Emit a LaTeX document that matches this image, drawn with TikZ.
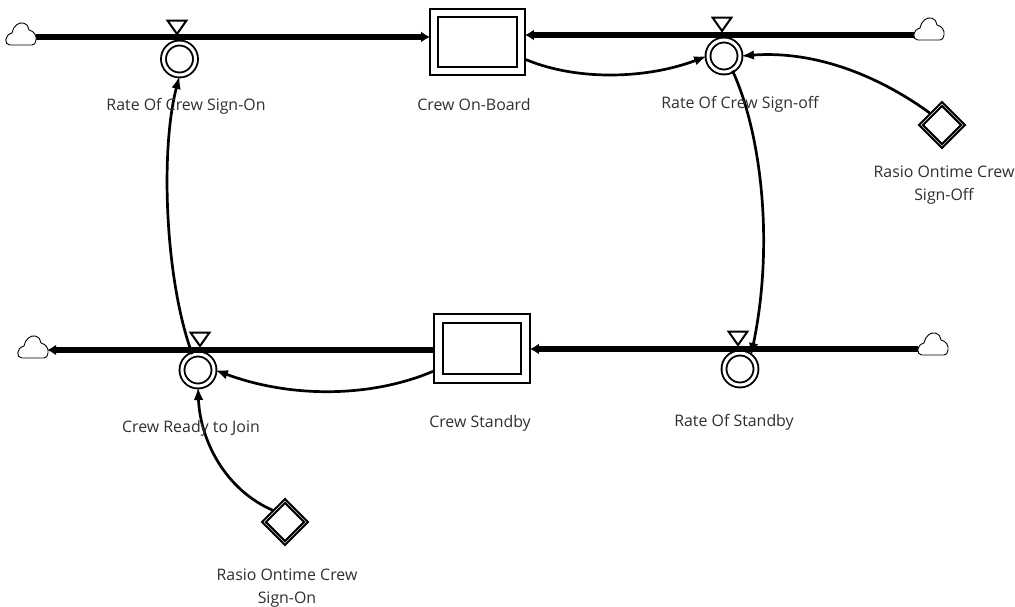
\documentclass[tikz,border=0pt]{standalone}
\usepackage{fontspec}
\setmainfont{Open Sans}
\usetikzlibrary{arrows.meta,shapes.geometric}
\definecolor{lbl}{HTML}{303030}
\newcommand{\cloudmark}[1]{\draw[cloudline,shift={(#1.center)}] (-11,11) .. controls (-17,11) and (-17,1) .. (-9,-1) .. controls (-8,-8) and (-2,-12) .. (2,-11) .. controls (6,-10) and (8,-7) .. (8,-4) .. controls (13,-3) and (16,2) .. (15,6) .. controls (15,9) and (13,11) .. (11,11) -- cycle;}
\newcommand{\valvemark}[2]{\draw[tri] (#1-9.5,#2-13.5) -- (#1+9.5,#2-13.5) -- (#1,#2) -- cycle;}
\tikzset{
  cloudline/.style={draw=black,line width=0.9pt,fill=white,line join=round},
  cloudnode/.style={inner sep=0pt,minimum width=30pt,minimum height=23pt},
  flowtip/.style={-{Latex[length=9pt,width=11pt]},shorten >=-1pt,line width=5.4pt,draw=black},
  link/.style={line width=2.7pt,draw=black,-{Latex[length=13pt,width=9.5pt]}},
  tri/.style={draw=black,line width=2pt,fill=white,line join=miter},
  valve/.style={circle,draw=black,line width=1.9pt,double=white,double distance=3pt,minimum size=32pt,inner sep=0pt,fill=white},
  stockouter/.style={rectangle,draw=black,line width=1.8pt,fill=white,inner sep=0pt},
  stockinner/.style={rectangle,draw=black,line width=2.2pt,fill=white,inner sep=0pt},
  aux/.style={diamond,shape aspect=1,draw=black,line width=2.2pt,double=white,double distance=0.4pt,fill=white,minimum width=43pt,minimum height=43pt,inner sep=0pt},
  lab/.style={text=lbl,font=\fontsize{15.9pt}{19pt}\selectfont,inner sep=0pt,align=center},
}
\begin{document}
\begin{tikzpicture}[x=1pt,y=-1pt]
\useasboundingbox (0,0) rectangle (1015,606);
\fill[white] (0,0) rectangle (1015,606);

% clouds
\node[cloudnode] (c1) at (21,34) {};
\node[cloudnode] (c2) at (929,29) {};
\node[cloudnode] (c3) at (33,347) {};
\node[cloudnode] (c4) at (933,344) {};

% stocks
\node[stockouter,minimum width=95pt,minimum height=66pt] (onboard) at (477.5,42) {};
\node[stockinner,minimum width=79pt,minimum height=50pt] (onboardin) at (477.5,42) {};
\node[stockouter,minimum width=96pt,minimum height=69pt] (standby) at (482,348.5) {};
\node[stockinner,minimum width=78pt,minimum height=51pt] (standbyin) at (482,348.5) {};

% valves
\node[valve] (v1) at (179.5,59) {};
\node[valve] (v2) at (724,56) {};
\node[valve] (v3) at (198,370) {};
\node[valve] (v4) at (740,369) {};

% auxiliaries
\node[aux] (a1) at (942,125) {};
\node[aux] (a2) at (285,522) {};

% flows
\coordinate (f1) at (onboard.west |- 0,37);
\coordinate (f2) at (onboard.east |- 0,35);
\coordinate (f3) at (standby.west |- 0,350);
\coordinate (f4) at (standby.east |- 0,349);
\draw[flowtip] (c1.east |- f1) -- (f1);
\draw[flowtip] (c2.west |- f2) -- (f2);
\draw[flowtip] (f3) -- (c3.east |- f3);
\draw[flowtip] (c4.west |- f4) -- (f4);

\foreach \c in {c1,c2,c3,c4} {\cloudmark{\c}}

\valvemark{177}{34}
\valvemark{722}{31}
\valvemark{200}{346}
\valvemark{738}{345}

% links
\draw[link] (onboard.-20) .. controls (580,82) and (650,78) .. (v2.west);
\draw[link] (a1.135) .. controls (885,80) and (820,50) .. (v2.east);
\draw[link] (v2.-60) .. controls (760,130) and (775,240) .. (v4.50);
\draw[link] (standby.-155) .. controls (370,398) and (290,398) .. (v3.east);
\draw[link] (a2.135) .. controls (225,490) and (200,440) .. (v3.south);
\draw[link] (v3.110) .. controls (165,280) and (160,150) .. (v1.south);

% labels
\node[lab] (t1) at (186,106.5) {Rate Of Crew Sign-On};
\node[lab] (t2) at (474,104.5) {Crew On-Board};
\node[lab] (t3) at (740,104.5) {Rate Of Crew Sign-off};
\node[lab] (t4) at (944,185) {Rasio Ontime Crew\\[4pt]Sign-Off};
\node[lab] (t5) at (191,428) {Crew Ready to Join};
\node[lab] (t6) at (480,423) {Crew Standby};
\node[lab] (t7) at (734,422) {Rate Of Standby};
\node[lab] (t8) at (287,588) {Rasio Ontime Crew\\[4pt]Sign-On};
\end{tikzpicture}
\end{document}
